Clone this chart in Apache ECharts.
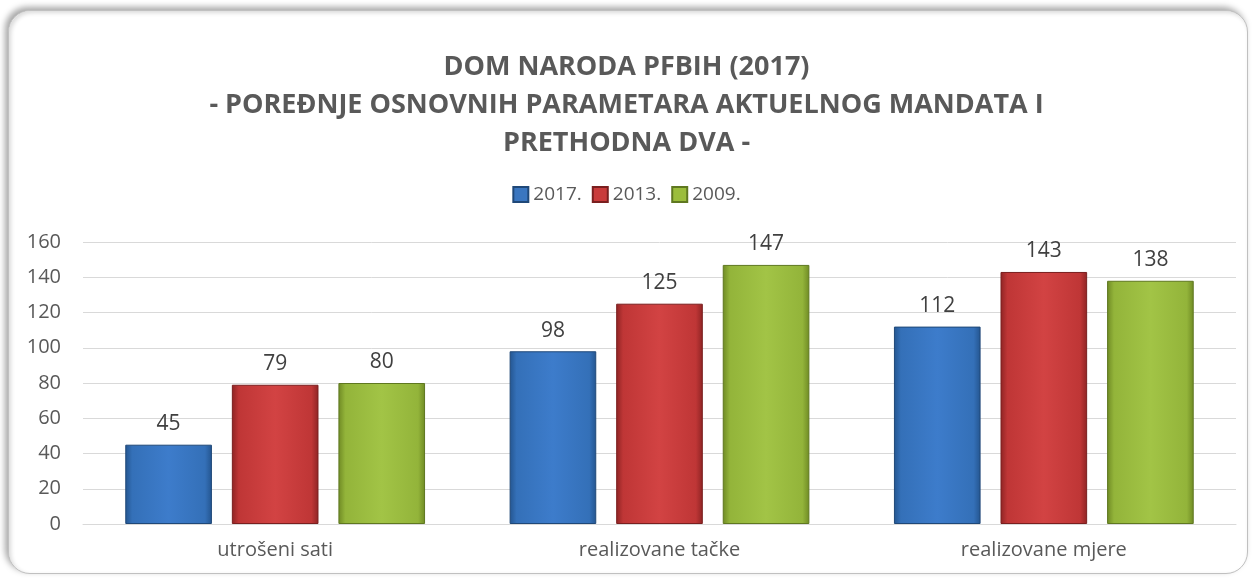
<!DOCTYPE html>
<html>
<head>
<meta charset="utf-8">
<script src="https://cdn.jsdelivr.net/npm/echarts@6/dist/echarts.min.js"></script>
<style>
    html, body { margin: 0; padding: 0; background: #fff; }
    #frame {
        position: absolute; left: 8px; top: 10px; width: 1238px; height: 562px;
        border-radius: 22px; border: 1px solid #c0c0c0;
        box-shadow: -3px -3px 6px rgba(0,0,0,0.35), inset 2px 2px 4px rgba(0,0,0,0.15);
        background: #fff;
    }
    #charts { position: absolute; left: 0; top: 0; width: 1253px; height: 579px; }
</style>
</head>
<body>
<div id="frame"></div>
<div id="charts"></div>
<script>
    var categories = ['utrošeni sati', 'realizovane tačke', 'realizovane mjere'];
    var seriesNames = ['2017.', '2013.', '2009.'];
    var values2017 = [45, 98, 112];
    var values2013 = [79, 125, 143];
    var values2009 = [80, 147, 138];
    var yTicks = [0, 20, 40, 60, 80, 100, 120, 140, 160];

    // dark edge, light middle, dark edge – gives the bevelled look
    function bevel(dark, mid, light) {
        return new echarts.graphic.LinearGradient(0, 0, 1, 0, [
            { offset: 0, color: dark },
            { offset: 0.08, color: mid },
            { offset: 0.5, color: light },
            { offset: 0.92, color: mid },
            { offset: 1, color: dark }
        ]);
    }
    var colors = [
        bevel('#24558f', '#3470b8', '#3d7ccb'),
        bevel('#8e2424', '#bf3636', '#d24343'),
        bevel('#6f8a24', '#93b43a', '#a2c446')
    ];
    var borders = ['#1f4878', '#7a1f1f', '#5f7820'];
    var legendColors = ['#3a76c0', '#c93b3b', '#9bbd3c'];

    var data = [values2017, values2013, values2009];
    var series = seriesNames.map(function (name, i) {
        return {
            name: name,
            type: 'bar',
            barGap: '23%',
            barCategoryGap: '22%',
            itemStyle: { color: colors[i], borderColor: borders[i], borderWidth: 1 },
            label: {
                show: true, position: 'top', distance: 10,
                color: '#404040', fontSize: 21, fontFamily: 'Open Sans'
            },
            data: data[i]
        };
    });

    var myCharts = echarts.init(document.getElementById('charts'));
    myCharts.setOption({
        color: legendColors,
        title: {
            text: 'DOM NARODA PFBIH (2017)\n- POREĐNJE OSNOVNIH PARAMETARA AKTUELNOG MANDATA I\nPRETHODNA DVA -',
            left: 'center',
            top: 43,
            textStyle: {
                color: '#595959', fontSize: 27, fontWeight: 'bold',
                fontFamily: 'Open Sans', lineHeight: 38
            }
        },
        legend: {
            top: 180,
            left: 'center',
            itemWidth: 15, itemHeight: 15, itemGap: 10,
            icon: 'rect',
            textStyle: { color: '#595959', fontSize: 19, fontFamily: 'Open Sans' },
            data: seriesNames.map(function (n, i) {
                return { name: n, itemStyle: { color: legendColors[i] } };
            })
        },
        grid: { left: 83, right: 17, top: 242, bottom: 55 },
        xAxis: {
            type: 'category',
            data: categories,
            axisTick: { show: false },
            axisLine: { lineStyle: { color: '#d9d9d9' } },
            axisLabel: { color: '#595959', fontSize: 20, fontFamily: 'Open Sans', margin: 16 }
        },
        yAxis: {
            type: 'value',
            min: yTicks[0],
            max: yTicks[yTicks.length - 1],
            interval: 20,
            axisLine: { show: false },
            axisTick: { show: false },
            splitLine: { lineStyle: { color: '#d9d9d9' } },
            axisLabel: { color: '#595959', fontSize: 20, fontFamily: 'Open Sans', margin: 22 }
        },
        series: series
    });
</script>
</body>
</html>
